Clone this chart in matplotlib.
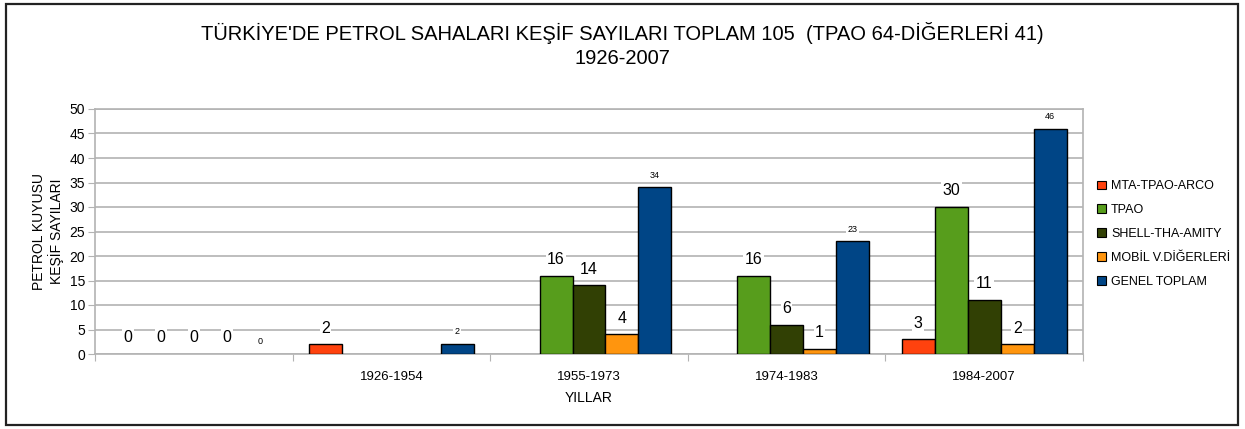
import matplotlib.pyplot as plt
import numpy as np
from matplotlib.patches import Rectangle

plt.rcParams['font.family'] = ['Liberation Sans', 'DejaVu Sans']

categories = ["", "1926-1954", "1955-1973", "1974-1983", "1984-2007"]
series_names = ["MTA-TPAO-ARCO", "TPAO", "SHELL-THA-AMITY", "MOBİL V.DİĞERLERİ", "GENEL TOPLAM"]
colors = ["#ff420e", "#579d1c", "#314004", "#ff950e", "#004586"]

# nan = no bar / no label in the original
nan = np.nan
mta = [0, 2, nan, nan, 3]
tpao = [0, nan, 16, 16, 30]
shell = [0, nan, 14, 6, 11]
mobil = [0, nan, 4, 1, 2]
genel = [0, 2, 34, 23, 46]
series = [mta, tpao, shell, mobil, genel]

fig = plt.figure(figsize=(12.45, 4.29), dpi=100)
ax = fig.add_axes([95 / 1245, 1 - 354 / 429, (1083 - 95) / 1245, (354 - 109) / 429])

n = len(categories)
bw = 1 / 6
x = np.arange(n)
for i, (name, vals, c) in enumerate(zip(series_names, series, colors)):
    pos = x - 0.5 + bw * (i + 1)
    vals = np.array(vals, dtype=float)
    heights = np.where(vals > 0, vals, np.nan)  # zero bars are not drawn
    ax.bar(pos, heights, width=bw, color=c, edgecolor="black",
           linewidth=1.0, label=name, zorder=3)
    for xp, v in zip(pos, vals):
        if np.isnan(v):
            continue
        small = (i == 4)
        ax.text(xp, v + (2.5 if small else 3.3), f"{int(v)}", ha="center", va="center",
                fontsize=6.5 if small else 11.5, color="black", zorder=4,
                bbox=dict(facecolor="white", edgecolor="none", pad=1.0))

ax.set_xlim(-0.5, n - 0.5)
ax.set_ylim(0, 50)
ax.set_yticks(np.arange(0, 51, 5))
ax.yaxis.grid(True, color="#b3b3b3", linewidth=1.2, zorder=0)
ax.set_axisbelow(True)
ax.tick_params(axis="y", length=5, color="#b3b3b3", labelsize=10, pad=2)

ax.set_xticks(np.arange(n + 1) - 0.5)
ax.set_xticklabels([])
ax.tick_params(axis="x", which="major", length=5, color="#b3b3b3")
ax.set_xticks(x, minor=True)
ax.set_xticklabels(categories, minor=True)
ax.tick_params(axis="x", which="minor", length=0, labelsize=9.5, pad=12)

for s in ax.spines.values():
    s.set_color("#b3b3b3")
    s.set_linewidth(1.2)

ax.set_xlabel("YILLAR", fontsize=10, labelpad=6)
ax.set_ylabel("PETROL KUYUSU\nKEŞİF SAYILARI", fontsize=10, labelpad=4)

fig.text(0.5, 1 - 33 / 429, "TÜRKİYE'DE PETROL SAHALARI KEŞİF SAYILARI TOPLAM 105  (TPAO 64-DİĞERLERİ 41)",
         ha="center", va="center", fontsize=14.5)
fig.text(0.5, 1 - 59 / 429, "1926-2007", ha="center", va="center", fontsize=14.5)

leg = fig.legend(loc="upper left", bbox_to_anchor=(1086 / 1245, 1 - 169 / 429), frameon=False,
                 fontsize=9, handlelength=0.7, handleheight=0.7, handletextpad=0.4,
                 labelspacing=0.95)
for h in leg.legend_handles:
    h.set_edgecolor("black")
    h.set_linewidth(0.8)

fig.patches.append(Rectangle((6 / 1245, 4 / 429), 1232 / 1245, 421 / 429, transform=fig.transFigure,
                             fill=False, edgecolor="#222222", linewidth=1.6))

fig.savefig("out.png", dpi=100)
